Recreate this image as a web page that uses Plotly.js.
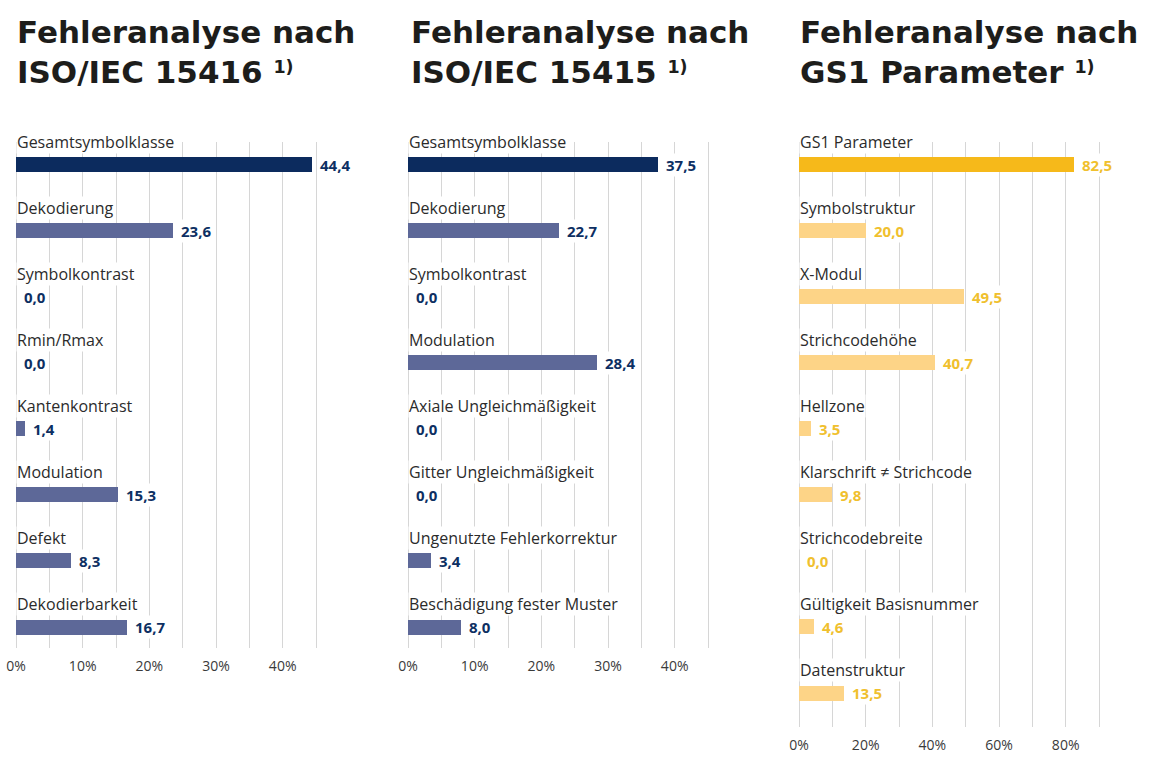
<!DOCTYPE html>
<html>
<head>
<meta charset="utf-8">
<script src="https://cdn.plot.ly/plotly-3.0.1.min.js"></script>
<style>html,body{margin:0;padding:0;background:#fff;}</style>
</head>
<body>
<div id="chart" style="width:1153px;height:768px;"></div>
<script>
// ---- Data ----
const SUP = " <span style=\"font-size:25px\"><sup>1)</sup></span>";
const titles = [
  "Fehleranalyse nach<br>ISO/IEC 15416" + SUP,
  "Fehleranalyse nach<br>ISO/IEC 15415" + SUP,
  "Fehleranalyse nach<br>GS1 Parameter" + SUP
];

const cats1 = ["Gesamtsymbolklasse","Dekodierung","Symbolkontrast","Rmin/Rmax","Kantenkontrast","Modulation","Defekt","Dekodierbarkeit"];
const vals1 = [44.4, 23.6, 0.0, 0.0, 1.4, 15.3, 8.3, 16.7];

const cats2 = ["Gesamtsymbolklasse","Dekodierung","Symbolkontrast","Modulation","Axiale Ungleichmäßigkeit","Gitter Ungleichmäßigkeit","Ungenutzte Fehlerkorrektur","Beschädigung fester Muster"];
const vals2 = [37.5, 22.7, 0.0, 28.4, 0.0, 0.0, 3.4, 8.0];

const cats3 = ["GS1 Parameter","Symbolstruktur","X-Modul","Strichcodehöhe","Hellzone","Klarschrift ≠ Strichcode","Strichcodebreite","Gültigkeit Basisnummer","Datenstruktur"];
const vals3 = [82.5, 20.0, 49.5, 40.7, 3.5, 9.8, 0.0, 4.6, 13.5];

// ---- Styles ----
const W = 1153, H = 768;
const NAVY = "#0c2b5e", SLATE = "#5d6898", AMBER = "#f6b91a", LIGHT = "#fdd487";
const NAVY_TXT = "#0d2f62", GOLD_TXT = "#f0c02e";
const GRID = "#d6d6d6";
const FONT = "'Open Sans', 'Noto Sans', sans-serif";
const TFONT = "'DejaVu Sans', 'Open Sans', sans-serif";

function fmt(v){ return v.toFixed(1).replace('.', ','); }

const panels = [
  {cats: cats1, vals: vals1, main: NAVY, rest: SLATE, txt: NAVY_TXT, xa: 'x',  ya: 'y'},
  {cats: cats2, vals: vals2, main: NAVY, rest: SLATE, txt: NAVY_TXT, xa: 'x2', ya: 'y2'},
  {cats: cats3, vals: vals3, main: AMBER, rest: LIGHT, txt: GOLD_TXT, xa: 'x3', ya: 'y3'}
];

const traces = panels.map(p => ({
  type: 'bar', orientation: 'h',
  x: p.vals, y: p.cats,
  xaxis: p.xa, yaxis: p.ya,
  width: 15/66,
  marker: {color: p.cats.map((c,i) => i === 0 ? p.main : p.rest)},
  hoverinfo: 'skip', showlegend: false
}));

const annotations = [];
const titleX = [15, 409, 798];
titles.forEach((t, i) => annotations.push({
  xref: 'paper', yref: 'paper', x: titleX[i]/W, y: 1 - 12/H,
  xanchor: 'left', yanchor: 'top', align: 'left', showarrow: false,
  text: '<b>' + t + '</b>',
  font: {family: TFONT, size: 31, color: '#1d1d1b'}
}));

panels.forEach(p => {
  p.cats.forEach((c, i) => {
    annotations.push({
      xref: p.xa, yref: p.ya, x: 0, y: c,
      xanchor: 'left', yanchor: 'middle', yshift: 23, showarrow: false,
      text: c, bgcolor: '#ffffff', borderpad: 0,
      font: {family: FONT, size: 16, color: '#2b2b2b'}
    });
    annotations.push({
      xref: p.xa, yref: p.ya, x: p.vals[i], y: c,
      xanchor: 'left', yanchor: 'middle', xshift: 6, showarrow: false,
      text: '<b>' + fmt(p.vals[i]) + '</b>', bgcolor: '#ffffff', borderpad: 1,
      font: {family: FONT, size: 15, color: p.txt}
    });
  });
});

function xax(domain, range, dtick, minor, anchor){
  return {
    domain: domain, range: range, dtick: dtick, tick0: 0, ticksuffix: '%', anchor: anchor,
    showgrid: true, gridcolor: GRID, gridwidth: 1, zeroline: false, showline: false,
    ticks: '', ticklabelstandoff: 8,
    minor: {dtick: minor, tick0: 0, showgrid: true, gridcolor: GRID, gridwidth: 1, ticks: ''},
    tickfont: {family: FONT, size: 14, color: '#3a3a3a'}, fixedrange: true
  };
}
function yax(domain, r, anchor){
  return {
    domain: domain, type: 'category', range: [r, -0.348],
    showgrid: false, zeroline: false, showticklabels: false, ticks: '', anchor: anchor, fixedrange: true
  };
}

const plotTop = 142, bot12 = 648, bot3 = 727;
const dom12 = [1 - bot12/H, 1 - plotTop/H];
const dom3 = [1 - bot3/H, 1 - plotTop/H];
const r12 = (bot12 - 165)/66, r3 = (bot3 - 165)/66;

const layout = {
  width: W, height: H, margin: {l: 0, r: 0, t: 0, b: 0},
  paper_bgcolor: '#ffffff', plot_bgcolor: 'rgba(0,0,0,0)',
  bargap: 0, showlegend: false,
  xaxis:  xax([(16 - 0.3*20/3)/W, (16 + 46*20/3)/W], [-0.3, 46], 10, 5, 'y'),
  xaxis2: xax([(408 - 0.3*20/3)/W, (408 + 46*20/3)/W], [-0.3, 46], 10, 5, 'y2'),
  xaxis3: xax([(799 - 0.6*10/3)/W, (799 + 92*10/3)/W], [-0.6, 92], 20, 10, 'y3'),
  yaxis:  yax(dom12, r12, 'x'),
  yaxis2: yax(dom12, r12, 'x2'),
  yaxis3: yax(dom3, r3, 'x3'),
  annotations: annotations
};

Plotly.newPlot('chart', traces, layout, {displayModeBar: false, staticPlot: true});
</script>
</body>
</html>
